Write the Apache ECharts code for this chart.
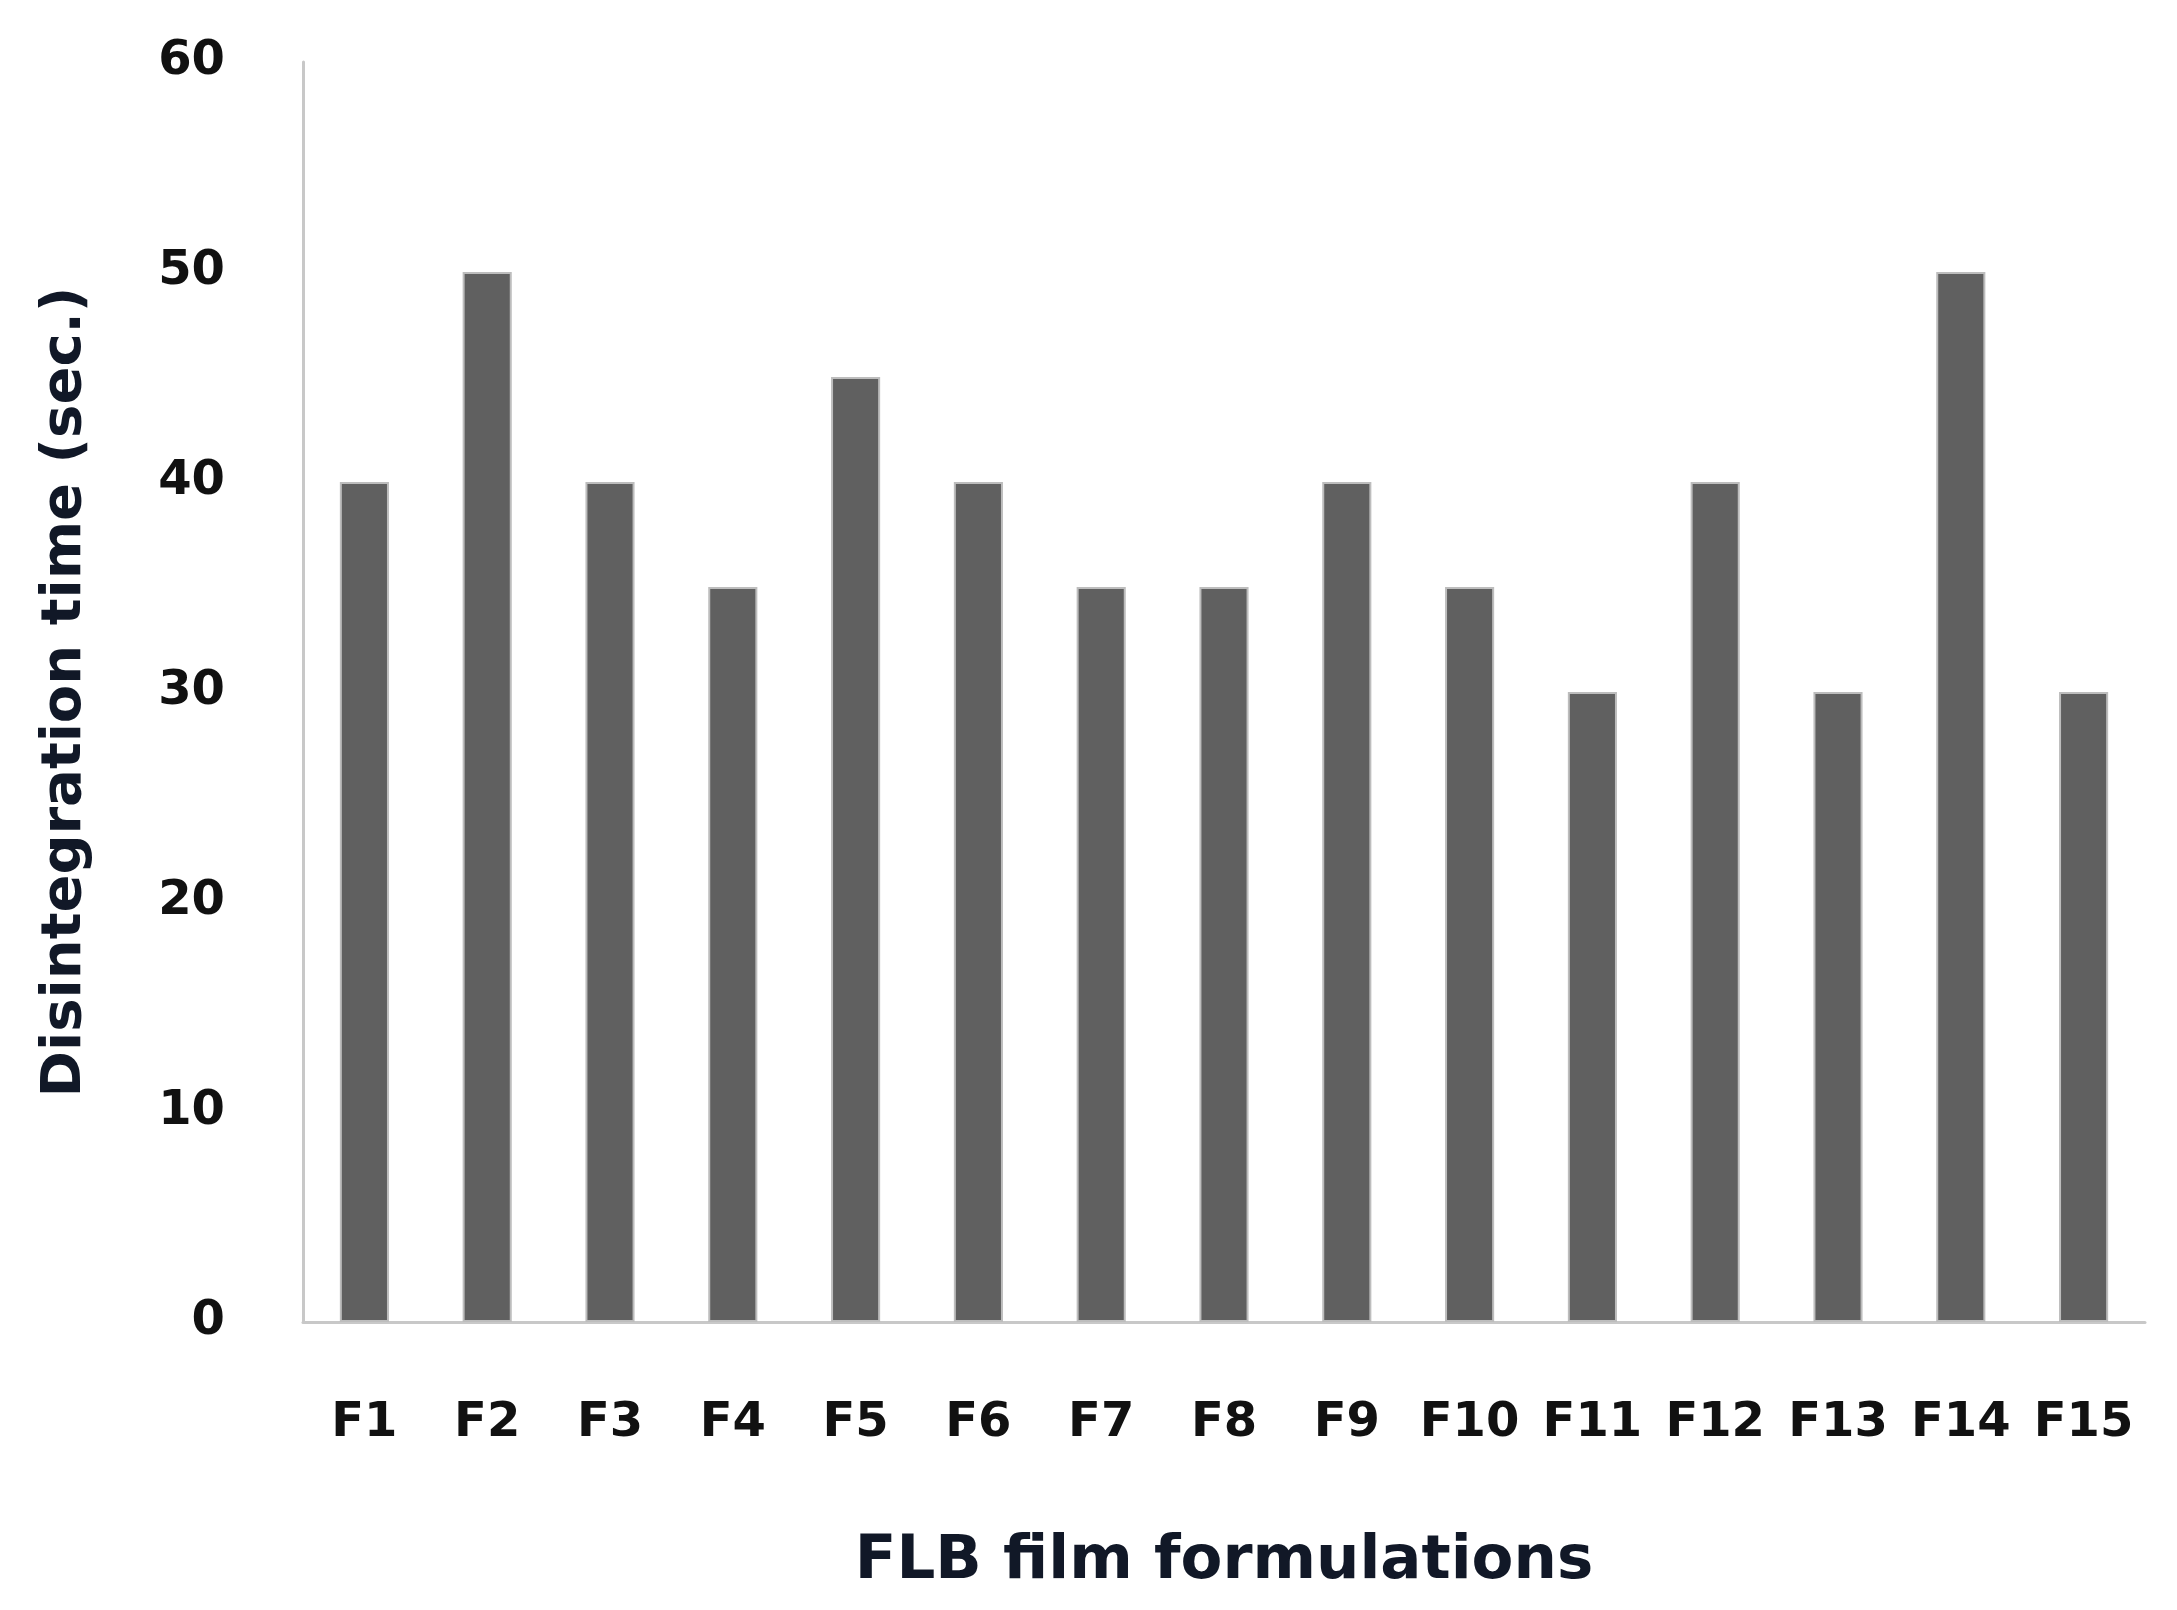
<!DOCTYPE html>
<html>
<head>
<meta charset="utf-8">
<script src="https://cdn.jsdelivr.net/npm/echarts@6/dist/echarts.min.js"></script>
<style>html,body{margin:0;background:#fff}#main{width:2177px;height:1610px}</style>
</head>
<body>
<div id="main"></div>
<script>
var categories = ['F1','F2','F3','F4','F5','F6','F7','F8','F9','F10','F11','F12','F13','F14','F15'];
var values = [40, 50, 40, 35, 45, 40, 35, 35, 40, 35, 30, 40, 30, 50, 30];
var yTicks = [0, 60, 10];

var myChart = echarts.init(document.getElementById('main'));
myChart.setOption({
    animation: false,
    grid: {left: 303, right: 32, top: 62, bottom: 288},
    xAxis: {
        type: 'category',
        data: categories,
        name: 'FLB film formulations',
        nameLocation: 'middle',
        nameGap: 210,
        nameTextStyle: {fontFamily: 'DejaVu Sans', fontWeight: 'bold', fontSize: 61, color: '#111827'},
        axisLine: {lineStyle: {color: '#c8c8c8', width: 3}},
        axisTick: {show: false},
        axisLabel: {fontFamily: 'DejaVu Sans', fontWeight: 'bold', fontSize: 48, color: '#111', margin: 78, interval: 0}
    },
    yAxis: {
        type: 'value',
        min: yTicks[0], max: yTicks[1], interval: yTicks[2],
        name: 'Disintegration time (sec.)',
        nameLocation: 'middle',
        nameGap: 210,
        nameTextStyle: {fontFamily: 'DejaVu Sans', fontWeight: 'bold', fontSize: 56, color: '#111827'},
        axisLine: {show: true, lineStyle: {color: '#c8c8c8', width: 3}},
        axisTick: {show: false},
        splitLine: {show: false},
        axisLabel: {fontFamily: 'DejaVu Sans', fontWeight: 'bold', fontSize: 48, color: '#111', margin: 78}
    },
    series: [{
        type: 'bar',
        data: values,
        barWidth: '40%',
        itemStyle: {color: '#606060', borderColor: '#bdbdbd', borderWidth: 2}
    }]
});
</script>
</body>
</html>
